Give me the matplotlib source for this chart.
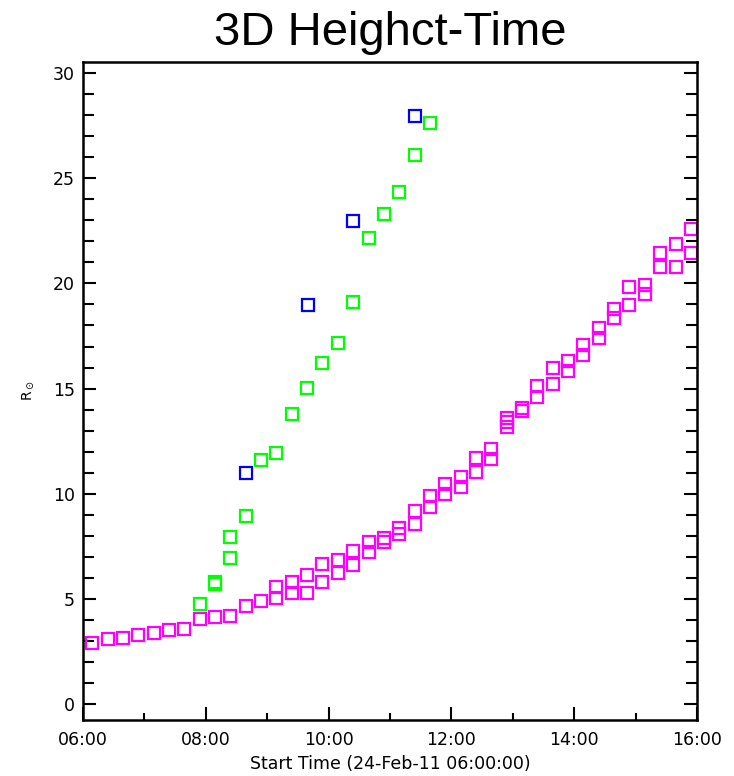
import matplotlib
matplotlib.use("Agg")
import matplotlib.pyplot as plt
from matplotlib.ticker import FuncFormatter, MultipleLocator

# hours after 00:00 on 24-Feb-2011, heights in solar radii
blue_t = [8.65, 9.66, 10.40, 11.41]
blue_h = [10.97, 18.97, 22.95, 27.96]

green_t = [7.90, 8.15, 8.15, 8.40, 8.40, 8.65, 8.90, 9.15, 9.40, 9.65,
           9.90, 10.15, 10.40, 10.65, 10.90, 11.15, 11.40, 11.65]
green_h = [4.75, 5.72, 5.82, 6.95, 7.95, 8.95, 11.6, 11.95, 13.8, 15.05,
           16.2, 17.15, 19.1, 22.15, 23.3, 24.35, 26.1, 27.65]

magenta_t = [6.15, 6.40, 6.65, 6.90, 7.15, 7.40, 7.65, 7.90, 8.15, 8.40,
             8.65, 8.90, 9.15, 9.15, 9.40, 9.40, 9.65, 9.65, 9.90, 9.90,
             10.15, 10.15, 10.40, 10.40, 10.65, 10.65, 10.90, 10.90, 11.15, 11.15,
             11.40, 11.40, 11.65, 11.65, 11.90, 11.90, 12.15, 12.15, 12.40, 12.40,
             12.65, 12.65, 12.90, 12.90, 12.90, 13.15, 13.15, 13.40, 13.40, 13.65,
             13.65, 13.90, 13.90, 14.15, 14.15, 14.40, 14.40, 14.65, 14.65, 14.90,
             14.90, 15.15, 15.15, 15.40, 15.40, 15.65, 15.65, 15.90, 15.90]
magenta_h = [2.92, 3.07, 3.15, 3.30, 3.36, 3.50, 3.55, 4.03, 4.13, 4.20,
             4.68, 4.90, 5.05, 5.55, 5.29, 5.80, 5.29, 6.14, 5.79, 6.65,
             6.21, 6.85, 6.60, 7.29, 7.24, 7.72, 7.72, 7.90, 8.10, 8.38,
             8.54, 9.19, 9.35, 9.88, 9.97, 10.45, 10.33, 10.81, 11.05, 11.68,
             11.64, 12.15, 13.15, 13.40, 13.62, 13.92, 14.10, 14.58, 15.12, 15.22,
             15.99, 15.84, 16.30, 16.60, 17.07, 17.39, 17.86, 18.34, 18.78, 18.97,
             19.84, 19.48, 19.94, 20.80, 21.43, 20.77, 21.86, 21.43, 22.57]

x_ticks = [6, 8, 10, 12, 14, 16]
y_ticks = [0, 5, 10, 15, 20, 25, 30]

fig = plt.figure(figsize=(7.34, 7.76), dpi=100)
ax = fig.add_axes([83 / 734, 1 - 720 / 776, 614 / 734, 658 / 776])

marker_style = dict(linestyle="none", marker="s", markersize=8.8,
                    markerfacecolor="none", markeredgewidth=1.6)
ax.plot(magenta_t, magenta_h, markeredgecolor="#FF00FF", **marker_style)
ax.plot(green_t, green_h, markeredgecolor="#00FF00", **marker_style)
ax.plot(blue_t, blue_h, markeredgecolor="#0000FF", **marker_style)

ax.set_xlim(6, 16)
ax.set_ylim(-0.76, 30.53)

ax.set_xticks(x_ticks)
ax.xaxis.set_minor_locator(MultipleLocator(1))
ax.xaxis.set_major_formatter(FuncFormatter(lambda v, p: f"{int(v):02d}:00"))
ax.set_yticks(y_ticks)
ax.yaxis.set_minor_locator(MultipleLocator(1))

ax.tick_params(which="both", direction="in", top=False, right=True,
               width=1.5, colors="black", labelsize=12.5)
ax.tick_params(axis="x", which="major", length=9.5, pad=8)
ax.tick_params(axis="x", which="minor", length=5)
ax.tick_params(axis="y", which="major", length=9.5, pad=6)
ax.tick_params(axis="y", which="minor", length=8)
for spine in ax.spines.values():
    spine.set_linewidth(1.8)

ax.set_title("3D Heighct-Time", fontsize=34, family="Liberation Sans", pad=12)
ax.set_xlabel("Start Time (24-Feb-11 06:00:00)", fontsize=12.5, labelpad=4)
ax.set_ylabel(r"R$_\odot$", fontsize=10, labelpad=12)

fig.savefig("out.png", dpi=100, facecolor="white")
